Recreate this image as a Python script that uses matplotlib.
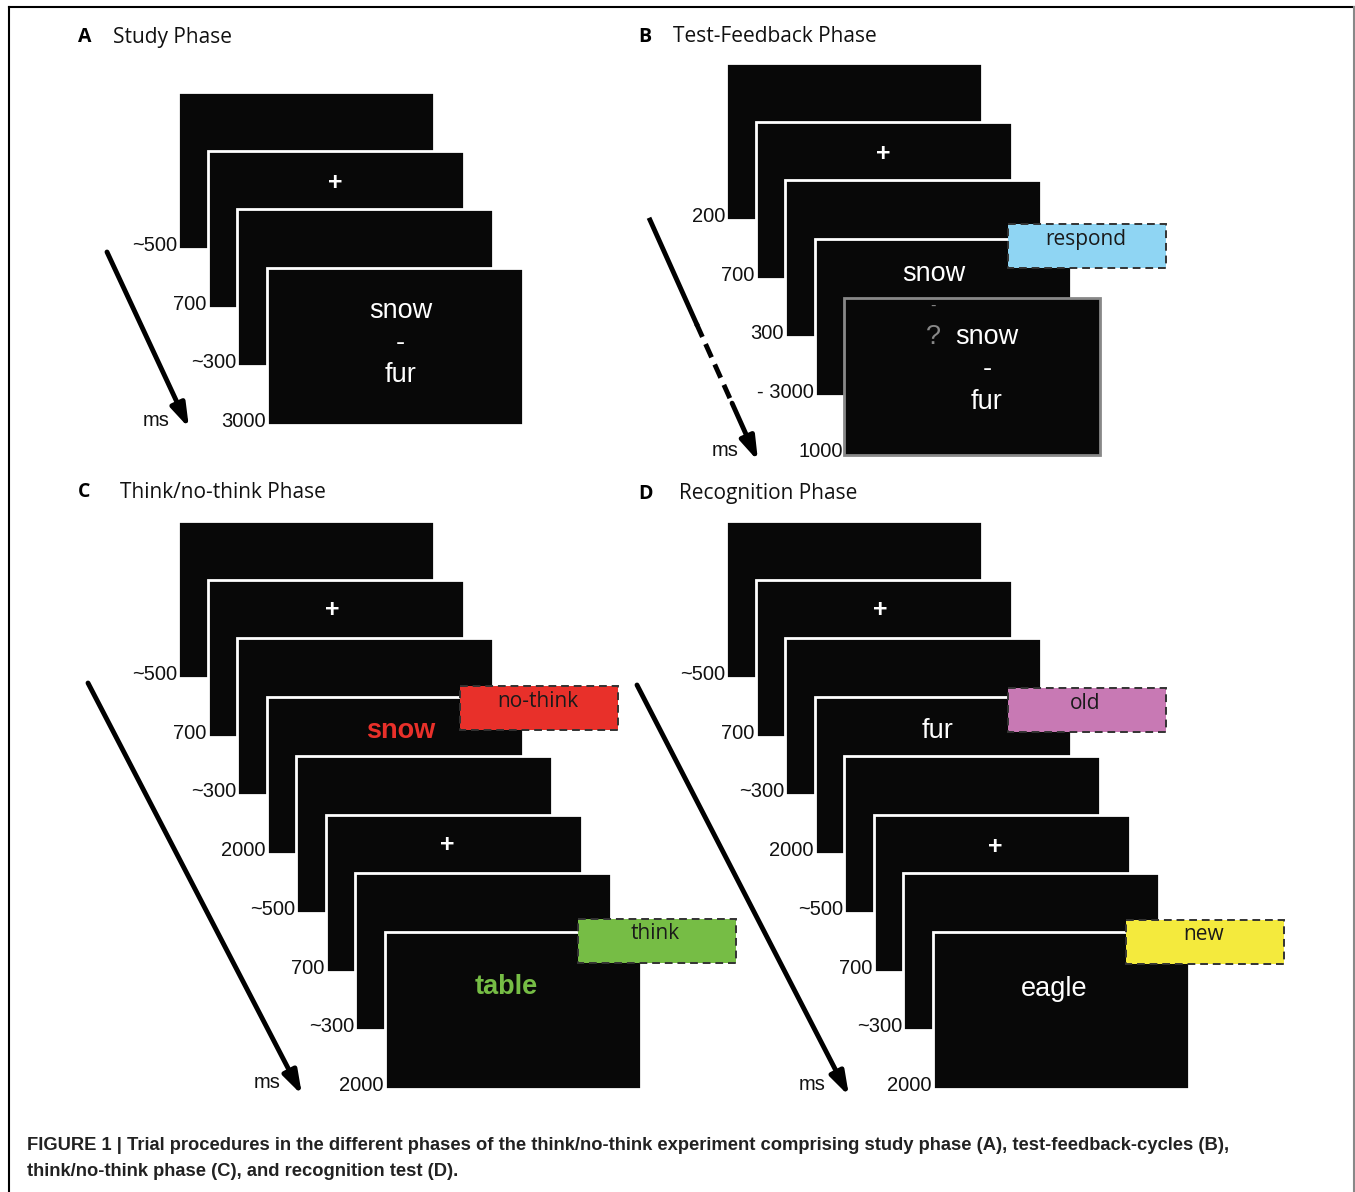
"""
Trial procedure figure: study / test-feedback / think-no-think / recognition phases
"""
import matplotlib
matplotlib.use("Agg")
import matplotlib.pyplot as plt
from matplotlib.patches import Rectangle, FancyArrowPatch
from matplotlib.lines import Line2D

plt.rcParams['font.family'] = ['Liberation Sans', 'DejaVu Sans']

# ---- data ----
panel_letters = ['A', 'B', 'C', 'D']
panel_titles = ['Study Phase', 'Test-Feedback Phase', 'Think/no-think Phase', 'Recognition Phase']

durations_a = ['~500', '700', '~300', '3000']
durations_b = ['200', '700', '300', '- 3000', '1000']
durations_c = ['~500', '700', '~300', '2000', '~500', '700', '~300', '2000']
durations_d = ['~500', '700', '~300', '2000', '~500', '700', '~300', '2000']

cue_labels = ['respond', 'no-think', 'think', 'old', 'new']
cue_colors = ['#8fd5f3', '#e8302a', '#76bd45', '#c879b4', '#f4ea3d']

caption_lines = [
    'FIGURE 1 | Trial procedures in the different phases of the think/no-think experiment comprising study phase (A), test-feedback-cycles (B),',
    'think/no-think phase (C), and recognition test (D).',
]

# ---- layout ----
W, H = 1355, 1192
fig = plt.figure(figsize=(W / 100, H / 100), dpi=100)
ax = fig.add_axes([0, 0, 1, 1])
ax.set_xlim(0, W)
ax.set_ylim(H, 0)
ax.axis('off')

SCREEN = '#080808'
SW, SH = 256, 157
DX, DY = 29.5, 58.7
LABEL_FS = 14.5
WORD_FS = 19.5
PLUS_FS = 18


def screen_pos(x0, y0, i):
    return x0 + i * DX, y0 + i * DY


def draw_stack(x0, y0, labels, edge_last='white'):
    for i, lab in enumerate(labels):
        x, y = screen_pos(x0, y0, i)
        ec = edge_last if i == len(labels) - 1 else 'white'
        ax.add_patch(Rectangle((x, y), SW, SH, facecolor=SCREEN, edgecolor=ec, lw=2, zorder=2 + i))
        ax.text(x - 1, y + SH + 2, lab, ha='right', va='baseline', fontsize=LABEL_FS,
                color='#111111', zorder=20)


def word(x0, y0, i, dx, dy, s, color='white', fs=WORD_FS, weight='normal'):
    x, y = screen_pos(x0, y0, i)
    ax.text(x + SW / 2 + dx, y + dy, s, ha='center', va='center', fontsize=fs,
            color=color, fontweight=weight, zorder=30)


def cue_box(x0, y0, i, label, color, dy_off=-13):
    x, y = screen_pos(x0, y0, i)
    bx, by = x + SW - 63, y + dy_off
    ax.add_patch(Rectangle((bx, by), 158, 44, facecolor=color, edgecolor='#333333',
                           lw=1.4, ls=(0, (4, 2.5)), zorder=25))
    ax.text(bx + 78, by + 15, label, ha='center', va='center', fontsize=15,
            color='#1a1a1a', family=['Open Sans', 'DejaVu Sans'], zorder=26)


def time_arrow(p0, p1, ms_xy, dashed=None):
    style = '-|>,head_length=14,head_width=4.5'
    if dashed is None:
        ax.add_patch(FancyArrowPatch(p0, p1, arrowstyle=style,
                                     lw=3.5, color='black', shrinkA=0, shrinkB=0, zorder=10))
    else:
        a, b = dashed
        fx = lambda t: (p0[0] + t * (p1[0] - p0[0]), p0[1] + t * (p1[1] - p0[1]))
        pa, pb = fx(a), fx(b)
        ax.add_line(Line2D([p0[0], pa[0]], [p0[1], pa[1]], lw=3.5, color='black', zorder=10))
        ax.add_line(Line2D([pa[0], pb[0]], [pa[1], pb[1]], lw=3.5, color='black',
                           ls=(0, (3, 1.6)), zorder=10))
        ax.add_patch(FancyArrowPatch(pb, p1, arrowstyle=style,
                                     lw=3.5, color='black', shrinkA=0, shrinkB=0, zorder=10))
    ax.text(ms_xy[0], ms_xy[1], 'ms', ha='center', va='center', fontsize=LABEL_FS, color='#111111')


def panel_title(x, y, letter, title, gap):
    ax.text(x, y, letter, ha='left', va='center', fontsize=14, fontweight='bold',
            family=['Open Sans', 'DejaVu Sans'])
    ax.text(x + gap, y, title, ha='left', va='center', fontsize=15,
            family=['Open Sans', 'DejaVu Sans'], color='#111111')


# outer frame
ax.add_line(Line2D([9, 1354], [7, 7], color='black', lw=1.5))
ax.add_line(Line2D([9, 9], [7, H], color='black', lw=1.5))
ax.add_line(Line2D([1354, 1354], [7, H], color='#888888', lw=1.5))

# ---- A: study phase ----
ax0, ay0 = 178, 92
panel_title(78, 37, panel_letters[0], panel_titles[0], 35)
draw_stack(ax0, ay0, durations_a)
word(ax0, ay0, 1, 0, 32, '+', fs=PLUS_FS, weight='bold')
word(ax0, ay0, 3, 6, 43, 'snow')
word(ax0, ay0, 3, 6, 75, '-')
word(ax0, ay0, 3, 6, 107, 'fur')
time_arrow((107, 252), (189, 428), (156, 420))

# ---- B: test-feedback phase ----
bx0, by0 = 726, 63
panel_title(638, 37, panel_letters[1], panel_titles[1], 35)
draw_stack(bx0, by0, durations_b, edge_last='#888888')
word(bx0, by0, 1, 0, 32, '+', fs=PLUS_FS, weight='bold')
word(bx0, by0, 3, -9, 35, 'snow')
word(bx0, by0, 4, -39, 9, '-', color='#888888', fs=12)
word(bx0, by0, 4, -39, 39, '?', color='#888888')
word(bx0, by0, 4, 15, 39, 'snow')
word(bx0, by0, 4, 15, 71, '-')
word(bx0, by0, 4, 15, 104, 'fur')
cue_box(bx0, by0, 3, cue_labels[0], cue_colors[0], dy_off=-15)
time_arrow((650, 220), (758, 461), (725, 450), dashed=(0.43, 0.76))

# ---- C: think/no-think phase ----
cx0, cy0 = 178, 521
panel_title(78, 492, panel_letters[2], panel_titles[2], 42)
draw_stack(cx0, cy0, durations_c)
word(cx0, cy0, 1, -3, 30, '+', fs=PLUS_FS, weight='bold')
word(cx0, cy0, 3, 6, 34, 'snow', color=cue_colors[1], weight='bold')
word(cx0, cy0, 5, -6, 31, '+', fs=PLUS_FS, weight='bold')
word(cx0, cy0, 7, -6, 55, 'table', color=cue_colors[2], weight='bold')
cue_box(cx0, cy0, 3, cue_labels[1], cue_colors[1], dy_off=-11)
cue_box(cx0, cy0, 7, cue_labels[2], cue_colors[2], dy_off=-13)
time_arrow((88, 683), (302, 1095), (267, 1083))

# ---- D: recognition phase ----
dx0, dy0 = 726, 521
panel_title(638, 494, panel_letters[3], panel_titles[3], 41)
draw_stack(dx0, dy0, durations_d)
word(dx0, dy0, 1, -3, 30, '+', fs=PLUS_FS, weight='bold')
word(dx0, dy0, 3, -5, 34, 'fur')
word(dx0, dy0, 5, -6, 33, '+', fs=PLUS_FS, weight='bold')
word(dx0, dy0, 7, -6, 57, 'eagle')
cue_box(dx0, dy0, 3, cue_labels[3], cue_colors[3], dy_off=-9)
cue_box(dx0, dy0, 7, cue_labels[4], cue_colors[4], dy_off=-12)
time_arrow((637, 685), (849, 1096), (812, 1084))

# ---- caption ----
for k, line in enumerate(caption_lines):
    ax.text(27, 1146 + k * 25, line, ha='left', va='center', fontsize=13.2, fontweight='bold',
            family=['Liberation Sans', 'DejaVu Sans'], color='#222222')

fig.savefig('out.png', dpi=100, facecolor='white')
